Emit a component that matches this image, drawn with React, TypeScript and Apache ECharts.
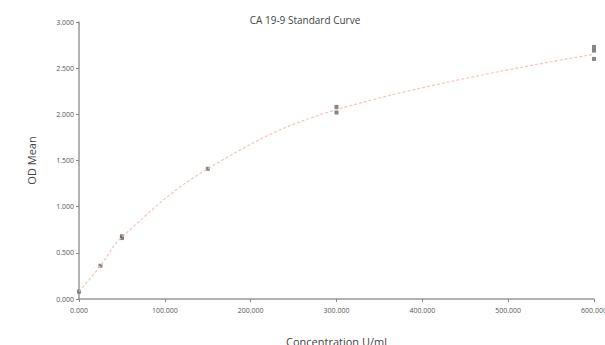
import React, { useEffect, useRef } from "react";
import * as echarts from "echarts";

const curveX = [0, 25, 50, 150, 300, 600];
const curveY = [0.08, 0.36, 0.67, 1.41, 2.05, 2.65];
const repX = [0, 25, 50, 50, 150, 300, 300, 600, 600, 600];
const repY = [0.08, 0.36, 0.66, 0.68, 1.41, 2.02, 2.08, 2.73, 2.69, 2.6];
const xTicks = [0, 100, 200, 300, 400, 500, 600];
const yTicks = [0, 0.5, 1, 1.5, 2, 2.5, 3];

export default function App() {
  const ref = useRef<HTMLDivElement>(null);
  useEffect(() => {
    const chart = echarts.init(ref.current!, null, { renderer: "svg" });
    chart.setOption({
      animation: false,
      backgroundColor: "#ffffff",
      title: {
        text: "CA 19-9 Standard Curve",
        left: 300,
        top: 10,
        textAlign: "center",
        textStyle: { fontFamily: "Open Sans", fontSize: 10, fontWeight: "normal", color: "#444" },
      },
      grid: { left: 79, right: 11, top: 22, bottom: 46, containLabel: false, outerBoundsMode: "none" },
      xAxis: {
        type: "value",
        min: xTicks[0],
        max: xTicks[xTicks.length - 1],
        interval: 100,
        name: "Concentration U/ml",
        nameLocation: "middle",
        nameGap: 37,
        nameTextStyle: { fontFamily: "Open Sans", fontSize: 11, color: "#444" },
        axisLine: { lineStyle: { color: "#999", width: 1.5 } },
        axisTick: { show: true, length: 3, lineStyle: { color: "#888" } },
        axisLabel: {
          fontFamily: "Open Sans",
          fontSize: 7,
          color: "#555",
          margin: 8,
          formatter: (v: number) => v.toFixed(3),
        },
        splitLine: { show: false },
      },
      yAxis: {
        type: "value",
        min: yTicks[0],
        max: yTicks[yTicks.length - 1],
        interval: 0.5,
        name: "OD Mean",
        nameLocation: "middle",
        nameGap: 42,
        nameTextStyle: { fontFamily: "Open Sans", fontSize: 11, color: "#444" },
        axisLine: { show: true, lineStyle: { color: "#999", width: 1.5 } },
        axisTick: { show: true, length: 3, lineStyle: { color: "#888" } },
        axisLabel: {
          fontFamily: "Open Sans",
          fontSize: 7,
          color: "#555",
          margin: 5,
          formatter: (v: number) => v.toFixed(3),
        },
        splitLine: { show: false },
      },
      series: [
        {
          type: "line",
          data: curveX.map((x, i) => [x, curveY[i]]),
          smooth: 0.4,
          showSymbol: false,
          lineStyle: { color: "#f2c6b8", width: 1.2, type: [3, 2] },
        },
        {
          type: "scatter",
          data: repX.map((x, i) => [x, repY[i]]),
          symbol: "rect",
          symbolSize: 4,
          itemStyle: { color: "#666" },
        },
      ],
    });
    return () => chart.dispose();
  }, []);
  return (
    <div
      ref={ref}
      style={{ position: "fixed", left: 0, top: 0, width: 605, height: 345 }}
    />
  );
}
